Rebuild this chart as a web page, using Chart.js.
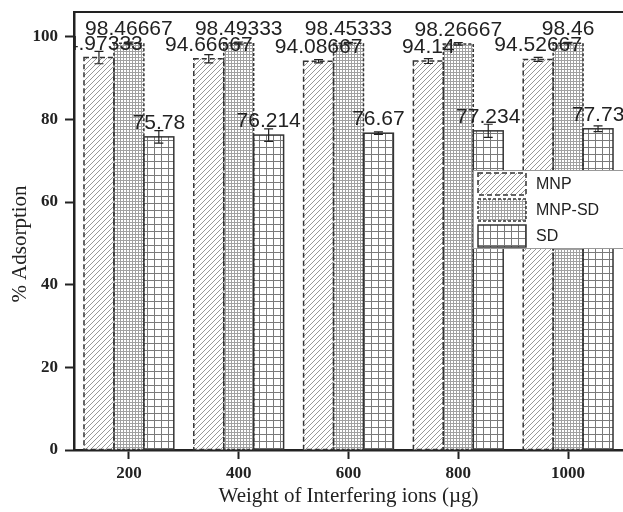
<!DOCTYPE html>
<html>
<head>
<meta charset="utf-8">
<script src="https://cdn.jsdelivr.net/npm/chart.js@4.4.1/dist/chart.umd.min.js"></script>
<style>
  html, body { margin: 0; padding: 0; background: #fff; }
</style>
</head>
<body>
<canvas id="grafica" width="623" height="512"></canvas>
<script>
// datos
const categories = ['200', '400', '600', '800', '1000'];
const seriesNames = ['MNP', 'MNP-SD', 'SD'];
const mnp = [94.97333, 94.66667, 94.08667, 94.14, 94.52667];
const mnpSd = [98.46667, 98.49333, 98.45333, 98.26667, 98.46];
const sd = [75.78, 76.214, 76.67, 77.234, 77.73];
const mnpErr = [1.5, 1.0, 0.4, 0.6, 0.5];
const mnpSdErr = [0.25, 0.25, 0.2, 0.3, 0.2];
const sdErr = [1.5, 1.5, 0.3, 1.6, 0.7];
const yTicks = [0, 20, 40, 60, 80, 100];

// rellenos tipo trama
function trama(tipo) {
  const c = document.createElement('canvas');
  const g = c.getContext('2d');
  if (tipo === 'diag') {
    c.width = 5; c.height = 5;
    g.fillStyle = '#fff'; g.fillRect(0, 0, 5, 5);
    g.strokeStyle = '#8c8c8c'; g.lineWidth = 0.9;
    g.beginPath();
    g.moveTo(0, 5); g.lineTo(5, 0);
    g.moveTo(-1, 1); g.lineTo(1, -1);
    g.moveTo(4, 6); g.lineTo(6, 4);
    g.stroke();
  } else if (tipo === 'fina') {
    c.width = 3; c.height = 3;
    g.fillStyle = '#fff'; g.fillRect(0, 0, 3, 3);
    g.fillStyle = '#a0a0a0';
    g.fillRect(0, 0, 3, 1); g.fillRect(0, 0, 1, 3);
  } else {
    c.width = 7; c.height = 7;
    g.fillStyle = '#fff'; g.fillRect(0, 0, 7, 7);
    g.fillStyle = '#7a7a7a';
    g.fillRect(0, 0, 7, 1); g.fillRect(0, 0, 1, 7);
  }
  return g.createPattern(c, 'repeat');
}

const estilos = [
  { fill: trama('diag'), dash: [5, 3], err: mnpErr },
  { fill: trama('fina'), dash: [3, 2], err: mnpSdErr },
  { fill: trama('grid'), dash: [], err: sdErr }
];

// bordes, barras de error, etiquetas, leyenda
const decor = {
  id: 'decor',
  afterDatasetsDraw(chart) {
    const ctx = chart.ctx;
    const y = chart.scales.y;
    const area = chart.chartArea;
    ctx.save();
    chart.data.datasets.forEach((ds, i) => {
      const meta = chart.getDatasetMeta(i);
      const st = estilos[i];
      meta.data.forEach((bar, j) => {
        const left = bar.x - bar.width / 2;
        ctx.setLineDash(st.dash);
        ctx.lineWidth = 1.5;
        ctx.strokeStyle = '#333';
        ctx.strokeRect(left, bar.y, bar.width, bar.base - bar.y);
        ctx.setLineDash([]);
        const v = ds.data[j];
        const hi = y.getPixelForValue(v + st.err[j]);
        const lo = y.getPixelForValue(v - st.err[j]);
        ctx.lineWidth = 1.2;
        ctx.strokeStyle = '#222';
        ctx.beginPath();
        ctx.moveTo(bar.x, hi); ctx.lineTo(bar.x, lo);
        ctx.moveTo(bar.x - 4.5, hi); ctx.lineTo(bar.x + 4.5, hi);
        ctx.moveTo(bar.x - 4.5, lo); ctx.lineTo(bar.x + 4.5, lo);
        ctx.stroke();
      });
    });
    // etiquetas de valores, recortadas al area
    ctx.save();
    ctx.beginPath();
    ctx.rect(area.left + 1, area.top, area.right - area.left, area.bottom - area.top);
    ctx.clip();
    ctx.font = '21px "Liberation Sans", Arial, sans-serif';
    ctx.fillStyle = '#222';
    ctx.textAlign = 'center';
    ctx.textBaseline = 'alphabetic';
    chart.data.datasets.forEach((ds, i) => {
      chart.getDatasetMeta(i).data.forEach((bar, j) => {
        ctx.fillText(String(ds.data[j]), bar.x, bar.y - 8);
      });
    });
    ctx.restore();
    // marco superior
    ctx.strokeStyle = '#222';
    ctx.lineWidth = 2.2;
    ctx.beginPath();
    ctx.moveTo(area.left, area.top);
    ctx.lineTo(area.right, area.top);
    ctx.stroke();
    // leyenda
    const lx = 473, ly = 170;
    ctx.fillStyle = '#fff';
    ctx.fillRect(lx, ly, 160, 78);
    ctx.strokeStyle = '#999';
    ctx.lineWidth = 1;
    ctx.strokeRect(lx + 0.5, ly + 0.5, 160, 78);
    ctx.font = '16px "Liberation Sans", Arial, sans-serif';
    ctx.textAlign = 'left';
    ctx.textBaseline = 'middle';
    chart.data.datasets.forEach((ds, i) => {
      const sy = ly + 3 + i * 26;
      ctx.fillStyle = estilos[i].fill;
      ctx.fillRect(478, sy, 48, 22);
      ctx.setLineDash(estilos[i].dash);
      ctx.lineWidth = 1.5;
      ctx.strokeStyle = '#333';
      ctx.strokeRect(478, sy, 48, 22);
      ctx.setLineDash([]);
      ctx.fillStyle = '#222';
      ctx.fillText(ds.label, 536, sy + 12);
    });
    // titulo eje y
    ctx.font = '21px "Liberation Serif", "Times New Roman", serif';
    ctx.textAlign = 'center';
    ctx.translate(20, 244);
    ctx.rotate(-Math.PI / 2);
    ctx.fillText('% Adsorption', 0, 0);
    ctx.restore();
  }
};

const ctx = document.getElementById('grafica');
new Chart(ctx, {
  type: 'bar',
  data: {
    labels: categories,
    datasets: [
      { label: seriesNames[0], data: mnp, backgroundColor: estilos[0].fill },
      { label: seriesNames[1], data: mnpSd, backgroundColor: estilos[1].fill },
      { label: seriesNames[2], data: sd, backgroundColor: estilos[2].fill }
    ].map(d => Object.assign(d, { borderWidth: 0, barPercentage: 1, categoryPercentage: 0.818 }))
  },
  options: {
    responsive: false,
    devicePixelRatio: 1,
    animation: false,
    layout: { padding: { top: 12, right: 0, left: 0, bottom: 0 } },
    plugins: { legend: { display: false }, tooltip: { enabled: false } },
    scales: {
      x: {
        grid: { display: true, drawOnChartArea: false, offset: false, tickLength: 9, tickWidth: 2, tickColor: '#222' },
        border: { color: '#222', width: 2.5 },
        ticks: { color: '#222', padding: 4, font: { family: '"Liberation Serif", serif', size: 17, weight: 'bold' } },
        title: { display: true, text: 'Weight of Interfering ions (µg)', color: '#222', padding: { top: 0, bottom: 3 },
                 font: { family: '"Liberation Serif", serif', size: 21 } },
        afterFit: s => { s.height = 62; s.paddingLeft = 0; s.paddingRight = 0; }
      },
      y: {
        min: 0,
        max: 106,
        afterBuildTicks: s => { s.ticks = yTicks.map(v => ({ value: v })); },
        grid: { display: true, drawOnChartArea: false, tickLength: 9, tickWidth: 2, tickColor: '#222' },
        border: { color: '#222', width: 2.5 },
        ticks: { color: '#222', padding: 7, font: { family: '"Liberation Serif", serif', size: 17, weight: 'bold' } },
        afterFit: s => { s.width = 74; s.paddingTop = 0; s.paddingBottom = 0; }
      }
    }
  },
  plugins: [decor]
});
</script>
</body>
</html>
